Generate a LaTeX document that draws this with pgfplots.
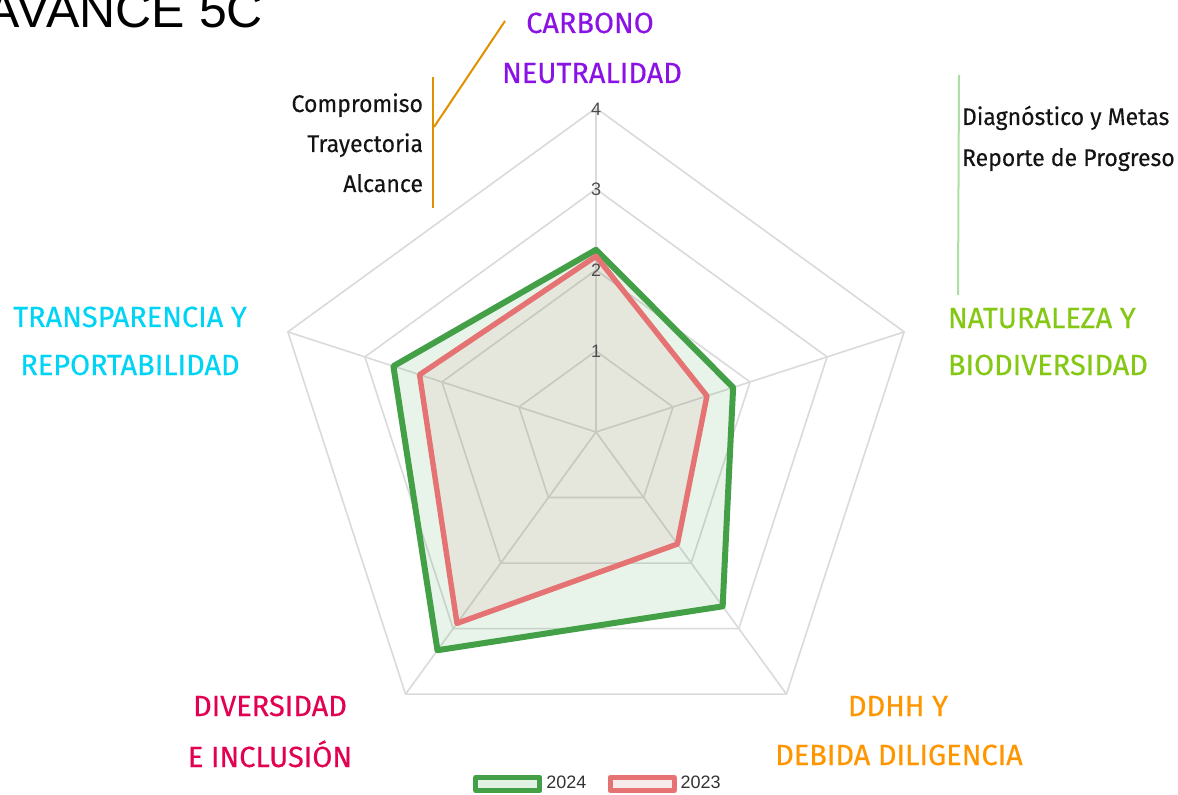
\documentclass[border=0pt]{standalone}
\usepackage{fontspec}
\setmainfont{Fira Sans}
\newfontfamily\annfont{Fira Sans}[FakeStretch=0.96, FakeBold=0.25]
\newfontfamily\catfont{Fira Sans}[FakeStretch=0.99, FakeBold=0.4]
\newfontfamily\titlefont{Liberation Sans}
\newfontfamily\numfont{Liberation Sans}
\usepackage{pgfplots}
\pgfplotsset{compat=1.18}
\definecolor{g24}{RGB}{67,160,71}
\definecolor{r23}{RGB}{229,115,115}
\definecolor{gridc}{RGB}{218,218,218}
\definecolor{cpurple}{RGB}{138,18,228}
\definecolor{clime}{RGB}{132,200,20}
\definecolor{ccyan}{RGB}{0,212,245}
\definecolor{ccrimson}{RGB}{226,0,82}
\definecolor{corange}{RGB}{255,150,0}
\definecolor{cline}{RGB}{224,145,0}
\definecolor{lgreen}{RGB}{175,222,165}
\begin{document}
\begin{tikzpicture}
\useasboundingbox (0pt,0pt) rectangle (589pt,397pt);
\begin{axis}[at={(0pt,0pt)}, anchor=south west,
  x=40.5pt, y=40.5pt, xmin=-7.358, xmax=7.185, ymin=-4.469, ymax=5.333,
  hide axis, clip=false,
  legend columns=2,
  legend style={at={(0.5085,0.0125)}, anchor=center, draw=none, fill=none,
    font=\numfont\fontsize{9}{9}\selectfont\color{black!80},
    /tikz/every even column/.append style={column sep=8.5pt},
    inner sep=0pt},
  legend image code/.code={\draw[#1, line width=2.5pt, fill opacity=0.15] (0pt,-3.25pt) rectangle (32pt,3.25pt);},
]
% grid
\addplot[gridc, line width=0.8pt, line join=round, data cs=polar, forget plot] coordinates {(90,1)(18,1)(-54,1)(-126,1)(162,1)} -- cycle;
\addplot[gridc, line width=0.8pt, line join=round, data cs=polar, forget plot] coordinates {(90,2)(18,2)(-54,2)(-126,2)(162,2)} -- cycle;
\addplot[gridc, line width=0.8pt, line join=round, data cs=polar, forget plot] coordinates {(90,3)(18,3)(-54,3)(-126,3)(162,3)} -- cycle;
\addplot[gridc, line width=0.8pt, line join=round, data cs=polar, forget plot] coordinates {(90,4)(18,4)(-54,4)(-126,4)(162,4)} -- cycle;
\addplot[gridc, line width=0.8pt, data cs=polar, forget plot] coordinates {(90,0)(90,4)};
\addplot[gridc, line width=0.8pt, data cs=polar, forget plot] coordinates {(18,0)(18,4)};
\addplot[gridc, line width=0.8pt, data cs=polar, forget plot] coordinates {(-54,0)(-54,4)};
\addplot[gridc, line width=0.8pt, data cs=polar, forget plot] coordinates {(-126,0)(-126,4)};
\addplot[gridc, line width=0.8pt, data cs=polar, forget plot] coordinates {(162,0)(162,4)};
% data
\addplot[draw=g24, line width=3pt, fill=g24, fill opacity=0.12, draw opacity=1, line join=round, data cs=polar]
  coordinates {(90,2.25)(18,1.78)(-54,2.66)(-126,3.33)(162,2.63)} -- cycle;
\addlegendentry{2024}
\addplot[draw=r23, line width=2.7pt, fill=r23!70!gray, fill opacity=0.10, draw opacity=1, line join=round, data cs=polar]
  coordinates {(90,2.17)(18,1.44)(-54,1.71)(-126,2.92)(162,2.29)} -- cycle;
\addlegendentry{2023}
\end{axis}
\begin{scope}[x=0.5pt, y=0.5pt, every node/.style={inner sep=0pt, outer sep=0pt}]
% tick labels
\foreach \v/\py in {4/109,3/189,2/270,1/351} {
  \node[font=\numfont\fontsize{9}{9}\selectfont, text=black!70] at (596,794-\py) {\v};
}
% title
\node[anchor=base west, font=\titlefont\fontsize{25}{25}\selectfont] at (-13,794-28) {AVANCE 5C};
% annotation lines
\draw[cline, line width=1pt] (433,794-77) -- (433,794-208);
\draw[cline, line width=1pt] (434,794-127) -- (505,794-21);
\draw[lgreen, line width=1pt] (959,794-75) -- (958,794-295);
% category labels
\begin{scope}[every node/.append style={font=\catfont\fontsize{14.6}{14.6}\selectfont}]
\node[anchor=base, text=cpurple] at (590,794-33) {CARBONO};
\node[anchor=base, text=cpurple] at (592,794-83) {NEUTRALIDAD};
\node[anchor=base west, text=clime] at (948,794-328) {NATURALEZA Y};
\node[anchor=base west, text=clime] at (948,794-375) {BIODIVERSIDAD};
\node[anchor=base, text=ccyan] at (130,794-327) {TRANSPARENCIA Y};
\node[anchor=base, text=ccyan] at (130,794-375) {REPORTABILIDAD};
\node[anchor=base, text=ccrimson] at (270,794-716) {DIVERSIDAD};
\node[anchor=base, text=ccrimson] at (270,794-767) {E INCLUSIÓN};
\node[anchor=base, text=corange] at (898,794-716) {DDHH Y};
\node[anchor=base, text=corange] at (899,794-765) {DEBIDA DILIGENCIA};
\end{scope}
\begin{scope}[every node/.append style={font=\annfont\fontsize{12}{12}\selectfont, text=black!92}]
\node[anchor=base east] at (423,794-112) {Compromiso};
\node[anchor=base east] at (423,794-152) {Trayectoria};
\node[anchor=base east] at (423,794-192) {Alcance};
\node[anchor=base west] at (962,794-125) {Diagnóstico y Metas};
\node[anchor=base west] at (962,794-166) {Reporte de Progreso};
\end{scope}
\end{scope}
\end{tikzpicture}
\end{document}
